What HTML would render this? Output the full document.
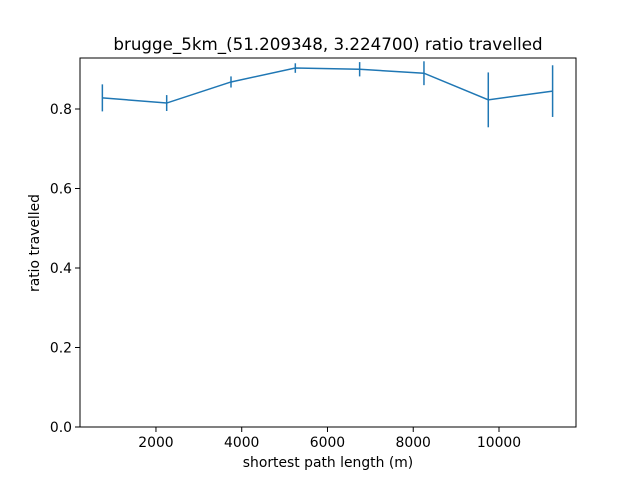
<!DOCTYPE html>
<html><head><meta charset="utf-8"><style>body{margin:0;background:#fff}svg text{font-family:"DejaVu Sans","Liberation Sans",sans-serif;fill:#000}</style></head>
<body>
<svg id="chart" width="640" height="480" xmlns="http://www.w3.org/2000/svg">
<rect width="640" height="480" fill="#fff"/>
<text x="328" y="50" font-size="16.7" text-anchor="middle">brugge_5km_(51.209348, 3.224700) ratio travelled</text>
<text x="328" y="467" font-size="13.9" text-anchor="middle">shortest path length (m)</text>
<text x="39" y="243" font-size="13.9" text-anchor="middle" transform="rotate(-90 39 243)">ratio travelled</text>
<g id="ticks"></g>
<g id="series"></g>
<rect x="80" y="58" width="496" height="369" fill="none" stroke="#000" stroke-width="1"/>
</svg>
<script>
const xValues=[750,2250,3750,5250,6750,8250,9750,11250];
const yValues=[0.828,0.815,0.868,0.903,0.9,0.89,0.823,0.845];
const yErrors=[0.034,0.02,0.014,0.012,0.018,0.03,0.069,0.065];
const xTicks=[2000,4000,6000,8000,10000];
const yTicks=[0,0.2,0.4,0.6,0.8];
const yTickLabels=["0.0","0.2","0.4","0.6","0.8"];
const NS="http://www.w3.org/2000/svg";
function sx(v){return 70.2+v*0.04288;}
function sy(v){return 427-v*397.5;}
function mk(t,a,p){const e=document.createElementNS(NS,t);for(const k in a)e.setAttribute(k,a[k]);p.appendChild(e);return e;}
const tg=document.getElementById('ticks'),sg=document.getElementById('series');
xTicks.forEach(v=>{const x=sx(v);
const l=mk('line',{x1:x,x2:x,y1:427,y2:432,stroke:'#000'},tg);


const t=mk('text',{x:x,y:447,'font-size':13.9,'text-anchor':'middle'},tg);t.textContent=v;

});
yTicks.forEach((v,i)=>{const y=sy(v);
const l=mk('line',{x1:75,x2:80,y1:y,y2:y,stroke:'#000'},tg);


const t=mk('text',{x:72,y:y+5,'font-size':13.9,'text-anchor':'end'},tg);t.textContent=yTickLabels[i];

});
const pl=mk('polyline',{points:xValues.map((x,i)=>sx(x)+','+sy(yValues[i])).join(' '),fill:'none',stroke:'#1f77b4','stroke-width':1.5},sg);


xValues.forEach((x,i)=>{const e=mk('line',{x1:sx(x),x2:sx(x),y1:sy(yValues[i]-yErrors[i]),y2:sy(yValues[i]+yErrors[i]),stroke:'#1f77b4','stroke-width':1.5},sg);

});
</script>
</body></html>
